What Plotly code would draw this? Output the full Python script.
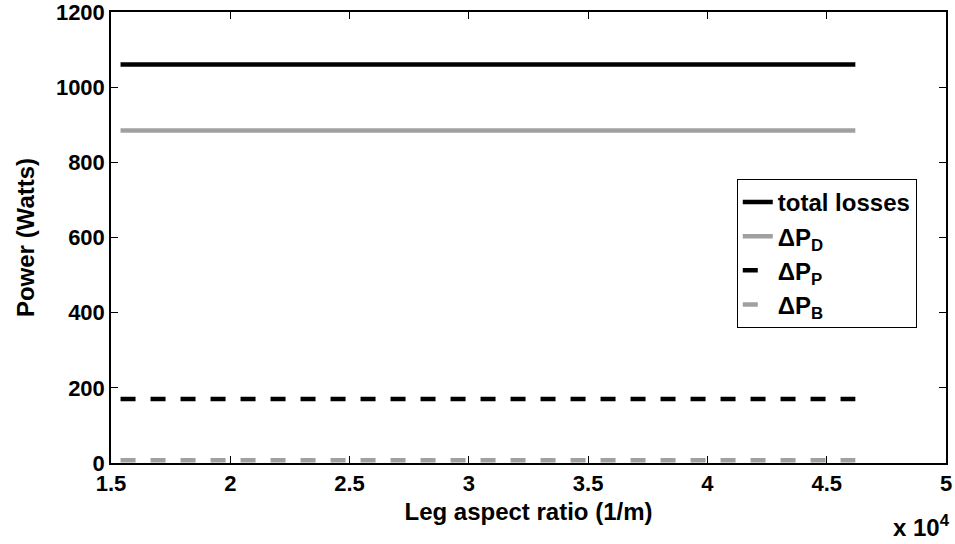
import plotly.graph_objects as go

# Leg aspect ratio (1/m) and the constant loss components (W)
aspect_ratio = [15400, 20000, 25000, 30000, 35000, 40000, 46200]
total_losses = [1060, 1060, 1060, 1060, 1060, 1060, 1060]
dp_d = [885, 885, 885, 885, 885, 885, 885]
dp_p = [170, 170, 170, 170, 170, 170, 170]
dp_b = [7, 7, 7, 7, 7, 7, 7]

x_ticks = [15000, 20000, 25000, 30000, 35000, 40000, 45000, 50000]
x_tick_text = ["1.5", "2", "2.5", "3", "3.5", "4", "4.5", "5"]
y_ticks = [0, 200, 400, 600, 800, 1000, 1200]

GRAY = "#a0a0a0"
FONT = "Liberation Sans, Arial, sans-serif"
TICK_SIZE = 22
TITLE_SIZE = 24

fig = go.Figure()
fig.add_trace(go.Scatter(x=aspect_ratio, y=total_losses, mode="lines", name="total losses",
                         line=dict(color="black", width=4.5)))
fig.add_trace(go.Scatter(x=aspect_ratio, y=dp_d, mode="lines", name="ΔP<sub>D</sub>",
                         line=dict(color=GRAY, width=4.5)))
fig.add_trace(go.Scatter(x=aspect_ratio, y=dp_p, mode="lines", name="ΔP<sub>P</sub>",
                         line=dict(color="black", width=4.5, dash="15px,15px")))
fig.add_trace(go.Scatter(x=aspect_ratio, y=dp_b, mode="lines", name="ΔP<sub>B</sub>",
                         line=dict(color=GRAY, width=4.5, dash="15px,15px")))

axis_common = dict(showline=True, linecolor="black", linewidth=1.5, mirror="ticks",
                   ticks="inside", ticklen=7, tickcolor="black", tickwidth=1,
                   showgrid=False, zeroline=False, ticklabeloverflow="allow",
                   automargin=False,
                   tickfont=dict(family=FONT, size=TICK_SIZE, color="black", weight="bold"))

fig.update_layout(
    width=955, height=544,
    margin=dict(l=111, r=9, t=12, b=81),
    paper_bgcolor="white", plot_bgcolor="white",
    font=dict(family=FONT, size=TICK_SIZE, color="black", weight="bold"),
    showlegend=True,
    legend=dict(x=0.965, y=0.63, xanchor="right", yanchor="top",
                bordercolor="black", borderwidth=1, bgcolor="white",
                font=dict(family=FONT, size=TITLE_SIZE, color="black", weight="bold"),
                tracegroupgap=0),
    xaxis=dict(range=[15000, 50000], tickvals=x_ticks, ticktext=x_tick_text,
               title=dict(text="Leg aspect ratio (1/m)", standoff=8,
                          font=dict(family=FONT, size=TITLE_SIZE, color="black", weight="bold")),
               **axis_common),
    yaxis=dict(range=[0, 1200], tickvals=y_ticks,
               title=dict(text="Power (Watts)", standoff=14,
                          font=dict(family=FONT, size=TITLE_SIZE, color="black", weight="bold")),
               **axis_common),
)

fig.add_annotation(text="x 10<sup>4</sup>", xref="paper", yref="paper",
                   x=1.007, y=0, xanchor="right", yanchor="bottom", yshift=-80,
                   showarrow=False,
                   font=dict(family=FONT, size=TITLE_SIZE, color="black", weight="bold"))

fig.write_html("out.html")
